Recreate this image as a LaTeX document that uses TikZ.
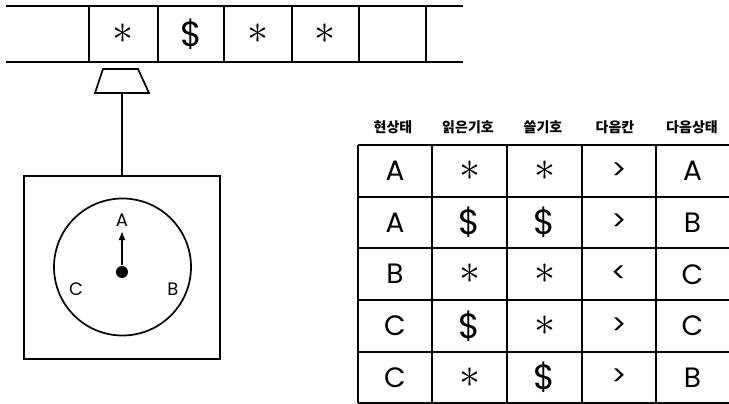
\documentclass[tikz,border=0pt]{standalone}
\usepackage{graphicx}
\usepackage{fontspec}
\setmainfont{Poppins}
\newfontfamily\kor{Noto Sans CJK KR}
\usetikzlibrary{arrows.meta}

% symbols on the tape and in the table
\newcommand\astk{{\fontsize{10}{12}\selectfont\scalebox{4.2}{$\ast$}}}
\newcommand\dol{{\fontsize{35}{35}\selectfont\$}}

\begin{document}
\begin{tikzpicture}[
    x=1pt, y=-1pt,
    line width=1.7pt,
    sym/.style={inner sep=0pt},
    hdr/.style={inner sep=0pt, font=\kor\bfseries\fontsize{14}{15}\selectfont},
    cell/.style={inner sep=0pt, font=\fontsize{28}{28}\selectfont},
    dlabel/.style={inner sep=0pt, font=\fontsize{18}{18}\selectfont},
    ctrlbox/.style={draw, rectangle, minimum width=196, minimum height=183},
    dialface/.style={draw, circle, minimum size=137},
    hub/.style={fill, circle, minimum size=12, inner sep=0pt}
]
\useasboundingbox (0,0) rectangle (729,404);

% --- Tape
\draw (6,6) -- (463,6);
\draw (6,62) -- (463,62);
\foreach \x in {89,158,224,292,359,426}
    \draw (\x,6) -- (\x,62);
\node[sym] (t1) at (123,34) {\astk};
\node[sym] (t2) at (191,34) {\dol};
\node[sym] (t3) at (258,34) {\astk};
\node[sym] (t4) at (325,34) {\astk};

% --- Read/write head and control unit
\draw (103,69) -- (138,69) -- (149,93) -- (95,93) -- cycle;
\coordinate (rw) at (122,93);
\node[ctrlbox] (ctrl) at (122,267.5) {};
\draw (rw) -- (ctrl.north);

% --- Dial with states
\node[dialface] (dial) at (122.5,267) {};
\node[hub] (hb) at (122,272) {};
\coordinate (tip) at (122,231);
\draw[-{Latex[length=9pt,width=7pt]}] (hb) -- (tip);
\node[dlabel] (sA) at (122,220) {A};
\node[dlabel] (sB) at (173,289) {B};
\node[dlabel] (sC) at (76,289) {C};

% --- Transition table
\foreach \x/\t [count=\i] in {393/현상태, 468/읽은기호, 543/쓸기호, 615/다음칸, 692/다음상태}
    \node[hdr] (h\i) at (\x,127) {\t};
\foreach \y in {145,197,248,300,352,403}
    \draw (358,\y) -- (729,\y);
\foreach \x in {358,432,507,582,656}
    \draw (\x,145) -- (\x,403);
\foreach \a/\b/\c/\d/\e [count=\r] in {
    A/\astk/\astk/>/A,
    A/\dol/\dol/>/B,
    B/\astk/\astk/</C,
    C/\dol/\astk/>/C,
    C/\astk/\dol/>/B}
{
    \pgfmathsetmacro\yy{171+(\r-1)*51.6}
    \node[cell] (r\r-1) at (395,\yy) {\a};
    \node[cell] (r\r-2) at (469.5,\yy) {\b};
    \node[cell] (r\r-3) at (544.5,\yy) {\c};
    \node[cell] (r\r-4) at (619,\yy) {\d};
    \node[cell] (r\r-5) at (692.5,\yy) {\e};
}
\end{tikzpicture}
\end{document}
